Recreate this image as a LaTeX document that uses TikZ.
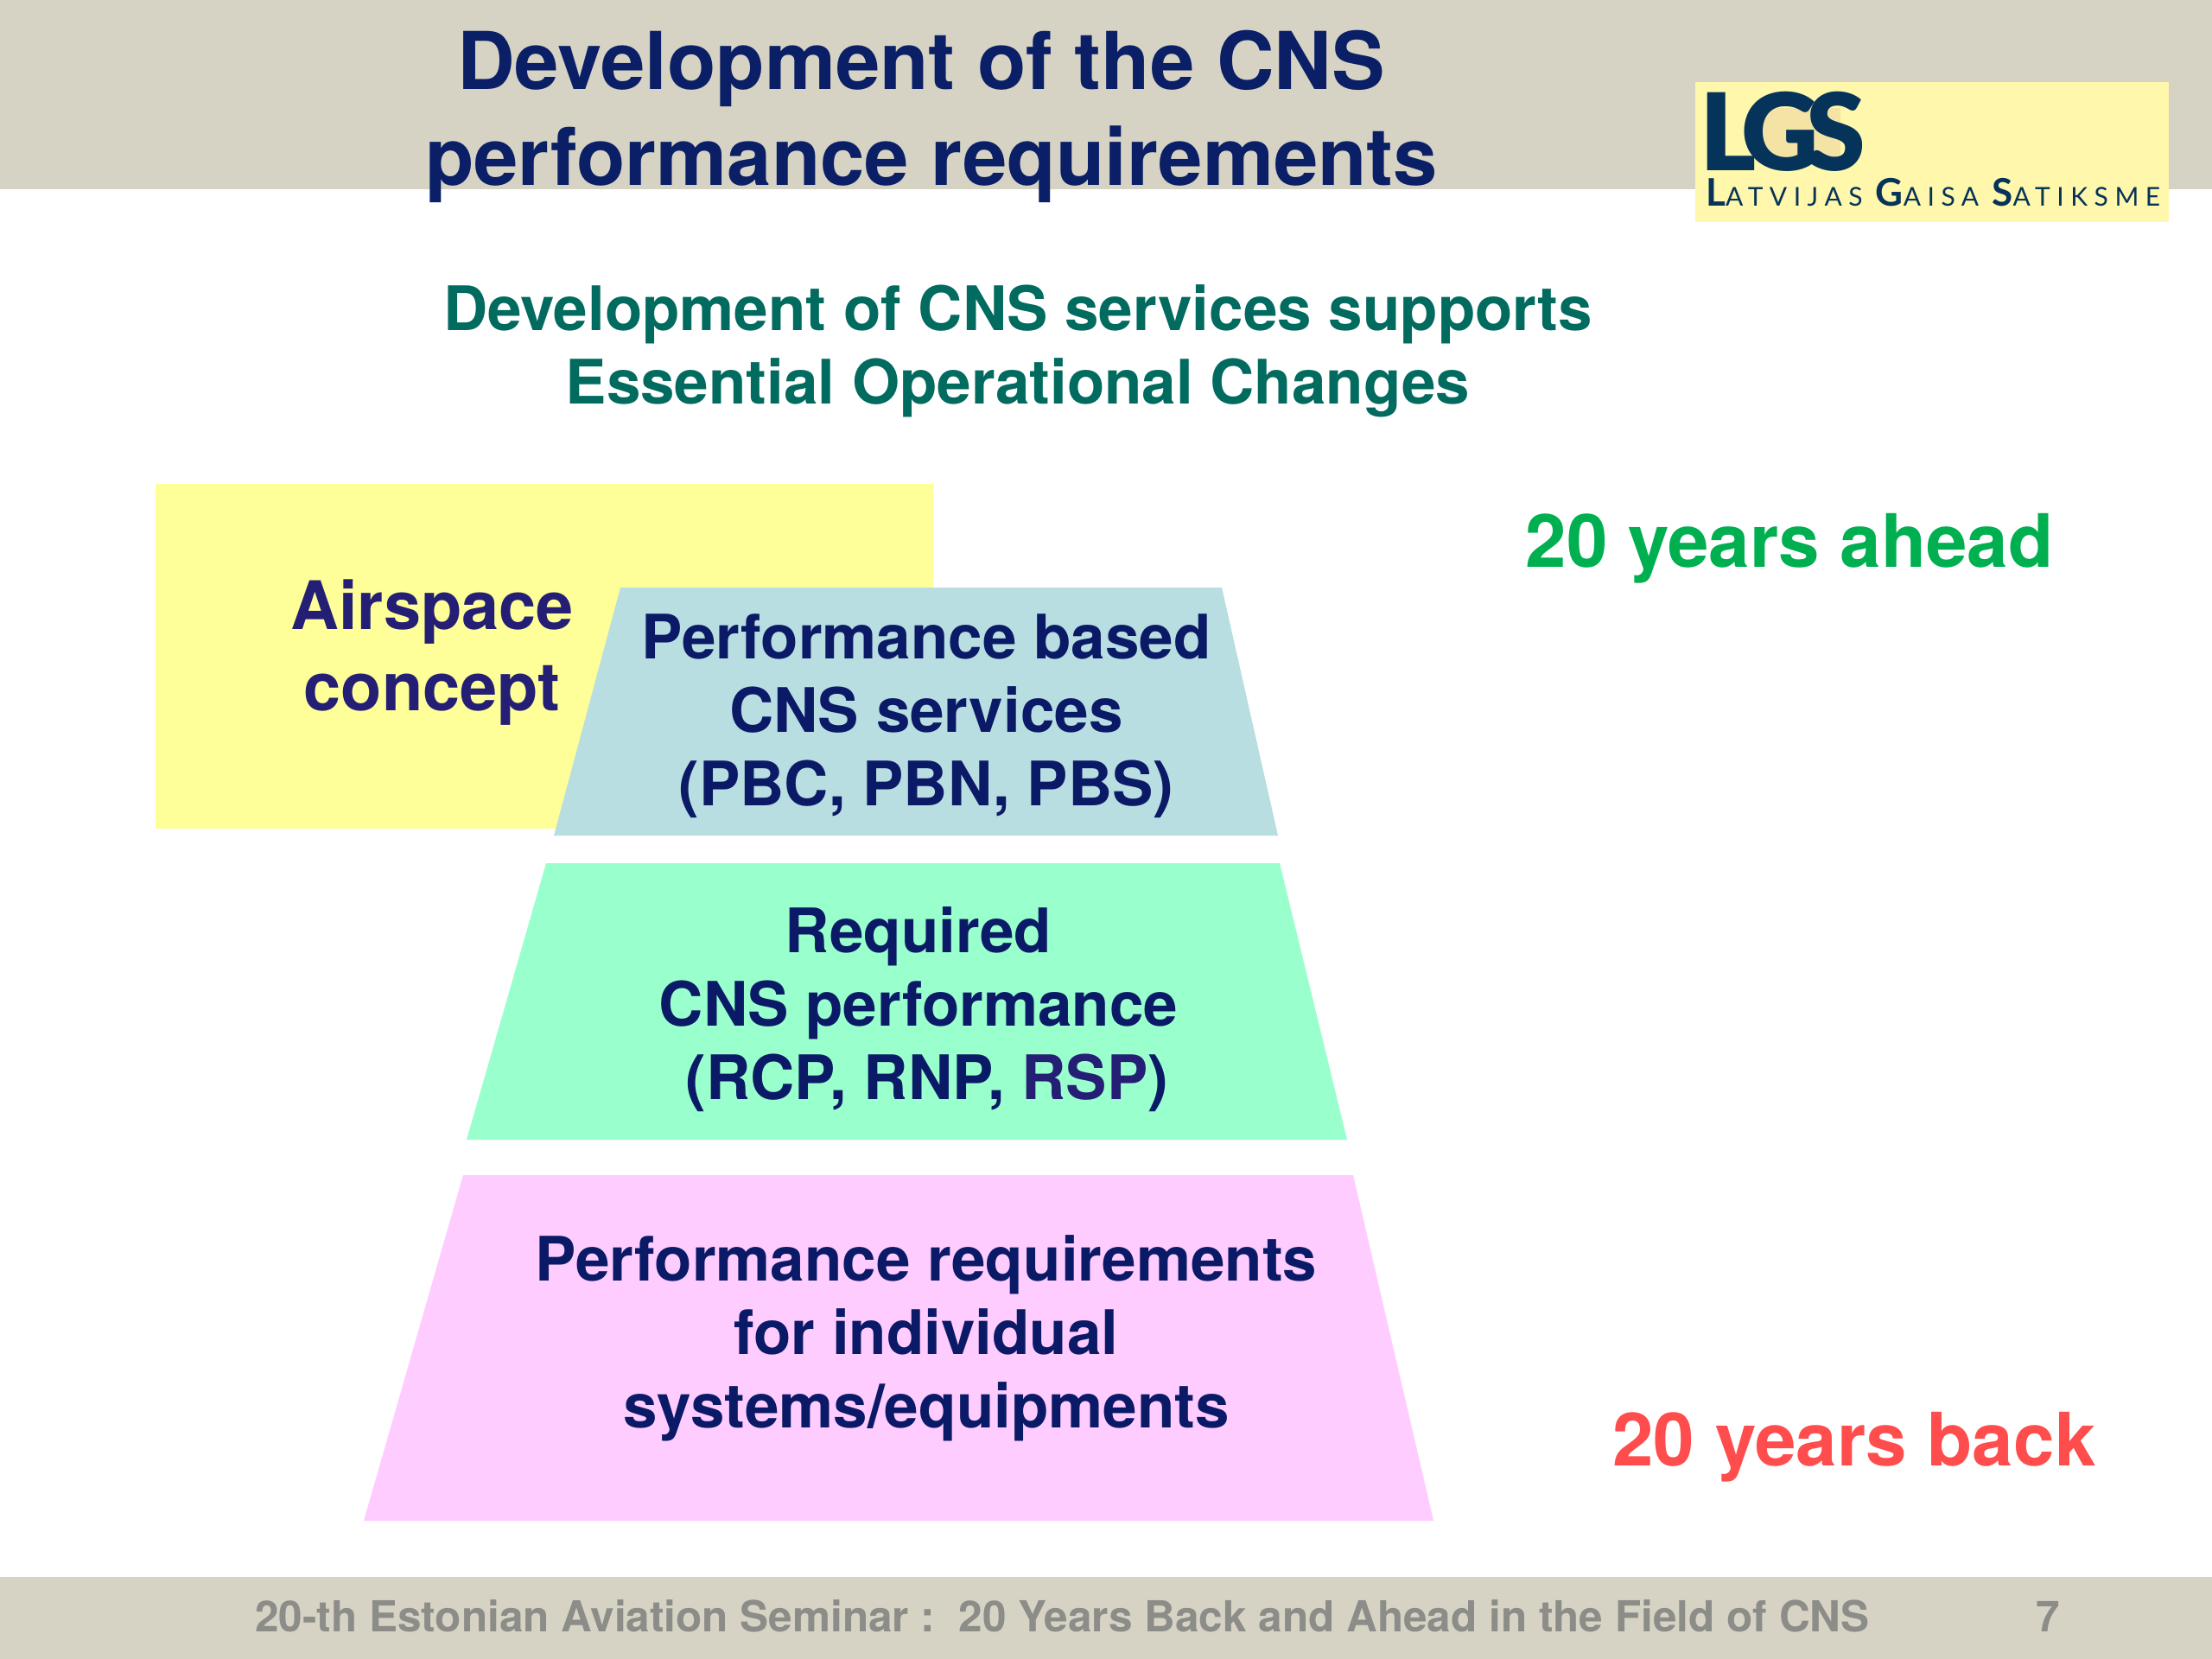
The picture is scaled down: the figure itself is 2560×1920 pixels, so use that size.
\documentclass[tikz,border=0pt]{standalone}
\usepackage{fontspec}
\setmainfont{TeX Gyre Heros}
\newfontfamily\logofont[LetterSpace=25]{Lato}
\newfontfamily\logoB[LetterSpace=-12]{Lato Black}
\definecolor{bar}{HTML}{D6D3C4}
\definecolor{logobg}{HTML}{FFF7AB}
\definecolor{logotint}{HTML}{F5E3A6}
\definecolor{logoink}{HTML}{06335A}
\definecolor{titleink}{HTML}{0A1F66}
\definecolor{subink}{HTML}{006B5E}
\definecolor{boxink}{HTML}{0B1A66}
\definecolor{airink}{HTML}{241F75}
\definecolor{aheadink}{HTML}{00B050}
\definecolor{backink}{HTML}{FF4D4D}
\definecolor{footink}{HTML}{8C8C88}
\definecolor{airbg}{HTML}{FFFF99}
\definecolor{pbbg}{HTML}{B8DEE2}
\definecolor{reqbg}{HTML}{99FFCC}
\definecolor{indbg}{HTML}{FFCCFF}
\tikzset{
  x=1pt,y=-1pt,
  label title/.style={align=center,inner sep=0pt,text=titleink,font=\bfseries\fontsize{92.3}{111}\selectfont},
  label sub/.style={align=center,inner sep=0pt,text=subink,font=\bfseries\fontsize{71}{85}\selectfont},
  label box/.style={align=center,inner sep=0pt,text=boxink,font=\bfseries\fontsize{71}{85}\selectfont},
  label air/.style={align=center,inner sep=0pt,text=airink,font=\bfseries\fontsize{77.5}{94}\selectfont},
  label years/.style={inner sep=0pt,font=\bfseries\fontsize{85.3}{100}\selectfont},
  label foot/.style={inner sep=0pt,text=footink,font=\bfseries\fontsize{49.5}{60}\selectfont},
}
\begin{document}
\begin{tikzpicture}
\useasboundingbox (0,0) rectangle (2560,1920);
\fill[white] (0,0) rectangle (2560,1920);
\fill[bar] (0,0) rectangle (2560,219);
\fill[bar] (0,1825) rectangle (2560,1920);
% logo
\fill[logobg] (1962,95) rectangle (2510,257);
\fill[logotint] (2030,125) rectangle (2130,182);
\node[inner sep=0pt,anchor=base west,text=logoink,font=\logoB\fontsize{124}{124}\selectfont] (lgs) at (1967,197) {LGS};
\node[inner sep=0pt,anchor=base west,text=logoink] (lgsname) at (1974,238)
  {\logofont\fontsize{30}{30}\selectfont{\bfseries\fontsize{44}{44}\selectfont L}ATVIJAS {\bfseries\fontsize{44}{44}\selectfont G}AISA {\bfseries\fontsize{44}{44}\selectfont S}ATIKSME};
% shapes
\fill[airbg] (180,560) rectangle (1080,959);
\fill[pbbg] (718,680) -- (1414,680) -- (1479,967) -- (641,967) -- cycle;
\fill[reqbg] (632,999) -- (1481,999) -- (1559,1319) -- (540,1319) -- cycle;
\fill[indbg] (536,1360) -- (1566,1360) -- (1659,1760) -- (421,1760) -- cycle;
% text
\node[label title] (title) at (1078,135) {Development of the CNS\hspace*{24pt}\\performance requirements};
\node[label sub] (sub) at (1178,406) {Development of CNS services supports\\Essential Operational Changes};
\node[label air] (air) at (500,755) {Airspace\\concept};
\node[label box] (pb) at (1072,829) {Performance based\\CNS services\\(PBC, PBN, PBS)};
\node[label box] (req) at (1063,1168) {Required\\CNS performance\\\hspace*{20pt}(RCP, RNP, {\color{airink}RSP})};
\node[label box] (ind) at (1072,1549) {Performance requirements\\for individual\\systems/equipments};
\node[label years,text=aheadink,anchor=base] (ahead) at (2071,656) {20 years ahead};
\node[label years,text=backink,anchor=base] (back) at (2146,1696) {20 years back};
\node[label foot,anchor=base west] (foot) at (295,1888) {20-th Estonian Aviation Seminar :\ \ 20 Years Back and Ahead in the Field of CNS};
\node[label foot,anchor=base] (page) at (2370,1888) {7};
\end{tikzpicture}
\end{document}
